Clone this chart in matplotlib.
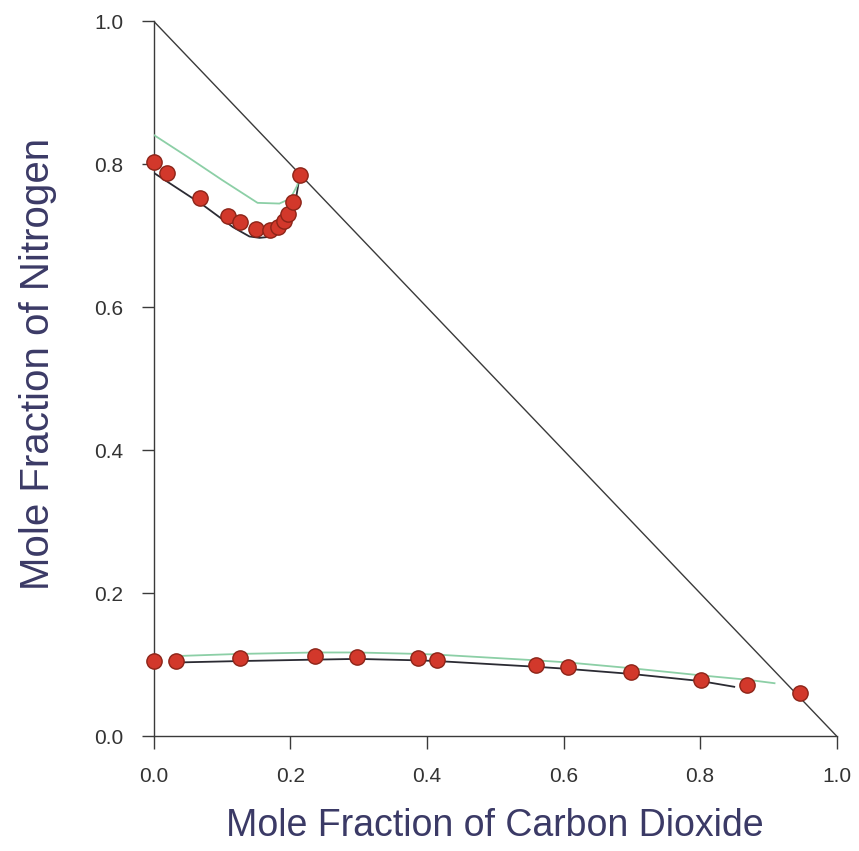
import numpy as np
import matplotlib.pyplot as plt

# measured points (CO2 fraction, N2 fraction)
upper_x = [0.000, 0.020, 0.068, 0.109, 0.126, 0.149, 0.170, 0.182, 0.191, 0.197, 0.204, 0.214]
upper_y = [0.803, 0.788, 0.753, 0.728, 0.719, 0.710, 0.708, 0.712, 0.721, 0.730, 0.747, 0.785]

lower_x = [0.000, 0.033, 0.126, 0.236, 0.298, 0.387, 0.415, 0.560, 0.607, 0.699, 0.801, 0.868, 0.947]
lower_y = [0.105, 0.105, 0.109, 0.112, 0.111, 0.109, 0.107, 0.099, 0.097, 0.089, 0.078, 0.071, 0.061]

# model curves
black_up_x = [0.000, 0.072, 0.116, 0.140, 0.155, 0.175, 0.190, 0.200, 0.207, 0.214]
black_up_y = [0.788, 0.743, 0.712, 0.699, 0.697, 0.699, 0.710, 0.725, 0.745, 0.785]
green_up_x = [0.000, 0.050, 0.100, 0.152, 0.184, 0.200, 0.210, 0.214]
green_up_y = [0.841, 0.810, 0.778, 0.746, 0.745, 0.752, 0.770, 0.785]

black_lo_x = [0.033, 0.126, 0.236, 0.298, 0.387, 0.415, 0.560, 0.607, 0.699, 0.801, 0.850]
black_lo_y = [0.103, 0.105, 0.107, 0.108, 0.106, 0.105, 0.097, 0.094, 0.087, 0.077, 0.069]
green_lo_x = [0.033, 0.126, 0.236, 0.298, 0.387, 0.415, 0.560, 0.607, 0.699, 0.801, 0.868, 0.909]
green_lo_y = [0.112, 0.115, 0.117, 0.117, 0.115, 0.114, 0.106, 0.103, 0.095, 0.085, 0.079, 0.074]

ticks = [0.0, 0.2, 0.4, 0.6, 0.8, 1.0]

plt.rcParams['font.family'] = ['Liberation Sans', 'DejaVu Sans']

fig = plt.figure(figsize=(8.59, 8.51), dpi=100)
ax = fig.add_axes([0.179, 0.135, 0.795, 0.840])

axis_col = '#3a3a3a'
ax.plot([0, 1], [1, 0], color=axis_col, lw=1.0, zorder=2)

ax.plot(black_up_x, black_up_y, color='#2b2b33', lw=1.3, zorder=3)
ax.plot(green_up_x, green_up_y, color='#8ccfa6', lw=1.3, zorder=3)
ax.plot(black_lo_x, black_lo_y, color='#2b2b33', lw=1.3, zorder=3)
ax.plot(green_lo_x, green_lo_y, color='#8ccfa6', lw=1.3, zorder=3)

mk = dict(ls='none', marker='o', ms=11, mfc='#d2382b', mec='#8c2418', mew=1.0,
          zorder=5, clip_on=False)
ax.plot(upper_x, upper_y, **mk)
ax.plot(lower_x, lower_y, **mk)

ax.set_xlim(0, 1)
ax.set_ylim(0, 1)
ax.spines['top'].set_visible(False)
ax.spines['right'].set_visible(False)
for s in ('left', 'bottom'):
    ax.spines[s].set_color(axis_col)
    ax.spines[s].set_linewidth(1.0)

ax.set_xticks(ticks)
ax.set_yticks(ticks)
ax.set_xticklabels([f"{t:.1f}" for t in ticks])
ax.set_yticklabels([f"{t:.1f}" for t in ticks])
ax.tick_params(direction='out', length=9, width=1.0, color=axis_col,
               labelsize=15, labelcolor='#333333', pad=13)

lab_col = '#3b3a66'
ax.set_xlabel('Mole Fraction of Carbon Dioxide', fontsize=27, color=lab_col, labelpad=16)
ax.set_ylabel('Mole Fraction of Nitrogen', fontsize=29, color=lab_col)
ax.yaxis.set_label_coords(-0.142, 0.52)

fig.savefig('out.png', dpi=100)
